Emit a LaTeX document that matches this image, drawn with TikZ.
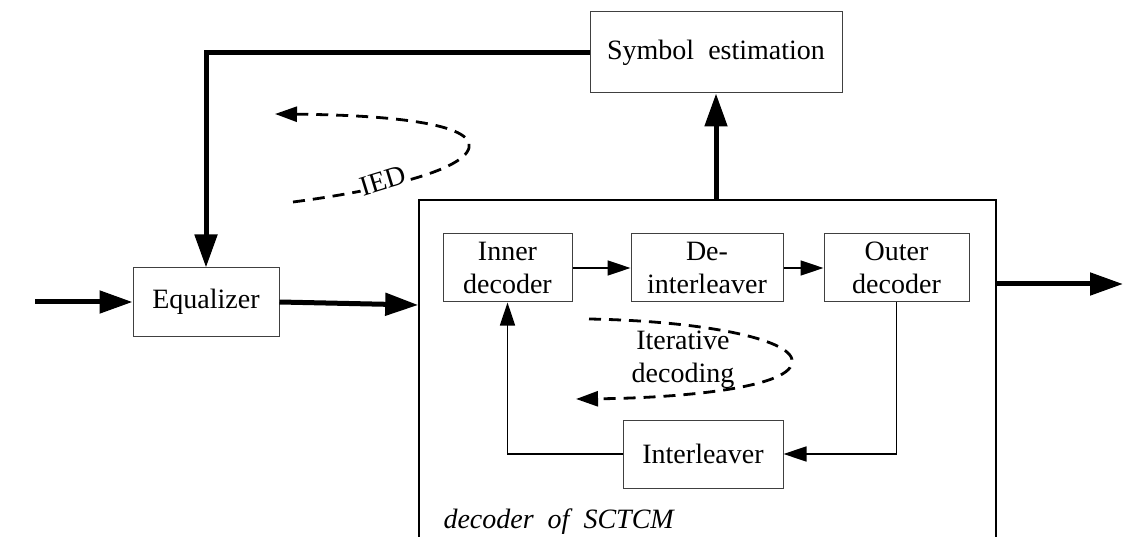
\documentclass[tikz,border=0pt]{standalone}
\usepackage{fontspec}
\setmainfont{Liberation Serif}
\usetikzlibrary{arrows.meta, calc}

\begin{document}
\begin{tikzpicture}[
    x=1pt, y=-1pt,
    font=\fontsize{28}{33}\selectfont,
    % Small block: thin grey border
    blk/.style={
        rectangle, draw=black!75, line width=1pt,
        inner sep=0pt, minimum height=68pt, align=center
    },
    % Outer decoder frame
    frame/.style={
        rectangle, draw=black, line width=1.6pt, inner sep=0pt
    },
    % Thick signal arrow
    bigarr/.style={
        line width=5pt, -{Triangle[length=33pt, width=22pt]}
    },
    % Thin arrow inside the decoder
    smallarr/.style={
        line width=1.5pt, -{Triangle[length=23pt, width=15pt]}
    },
    % Dashed loop arrow
    looparr/.style={
        line width=2.8pt, dash pattern=on 12pt off 8pt,
        -{Triangle[length=22pt, width=15pt]}
    },
]

\useasboundingbox (0,0) rectangle (1143,537);

% ============================================================
% BLOCKS
% ============================================================
\node[blk, minimum width=252pt, minimum height=81pt] (symb) at (716, 52.5)
    {Symbol\ \ estimation};
\node[blk, minimum width=146pt] (equ) at (206, 302) {Equalizer};

% decoder of SCTCM (frame runs off the bottom)
\node[frame, minimum width=577pt, minimum height=500pt] (sctcm) at (707.5, 450) {};
\node[anchor=base west, font=\fontsize{28}{33}\selectfont\itshape] (sctcmlbl)
    at (440, 528) {decoder\ \ of\ \ SCTCM};

\node[blk, minimum width=129pt] (inner) at (507.5, 268) {Inner\\decoder};
\node[blk, minimum width=152pt] (deint) at (707, 268) {De-\\interleaver};
\node[blk, minimum width=145pt] (outer) at (896.5, 268) {Outer\\decoder};
\node[blk, minimum width=160pt] (inter) at (703, 454) {Interleaver};

% ============================================================
% THICK CONNECTIONS
% ============================================================
\coordinate (in)  at (35, 302);
\coordinate (out) at (1123, 284);

\draw[bigarr] (in) -- (equ.west);
\draw[bigarr] (equ.east) -- ($(equ.east -| sctcm.west) + (0,3)$);
\draw[bigarr] (sctcm.east |- out) -- (out);
\draw[bigarr] (sctcm.north -| symb.south) -- (symb.south);
\draw[bigarr] (symb.west) -| (equ.north);

% ============================================================
% THIN CONNECTIONS
% ============================================================
\draw[smallarr] (inner.east) -- (deint.west);
\draw[smallarr] (deint.east) -- (outer.west);
\draw[smallarr] (outer.south) |- (inter.east);
\draw[smallarr] (inter.west) -| (inner.south);

% ============================================================
% DASHED LOOPS
% ============================================================
\coordinate (ied-a) at (293, 202);
\coordinate (ied-b) at (275, 114);
\draw[looparr] (ied-a) .. controls (385, 190) and (475, 168) .. (469, 143)
    .. controls (462, 122) and (380, 115) .. (ied-b);
\node[rotate=17, fill=white, inner sep=1pt] (ied) at (383, 181) {IED};

\coordinate (it-a) at (589, 319);
\coordinate (it-b) at (576, 399);
\node[align=center] (itlbl) at (683, 360) {Iterative\\decoding};
\draw[looparr] (it-a) .. controls (705, 321) and (797, 340) .. (792, 363)
    .. controls (788, 388) and (680, 398) .. (it-b);

\end{tikzpicture}
\end{document}
